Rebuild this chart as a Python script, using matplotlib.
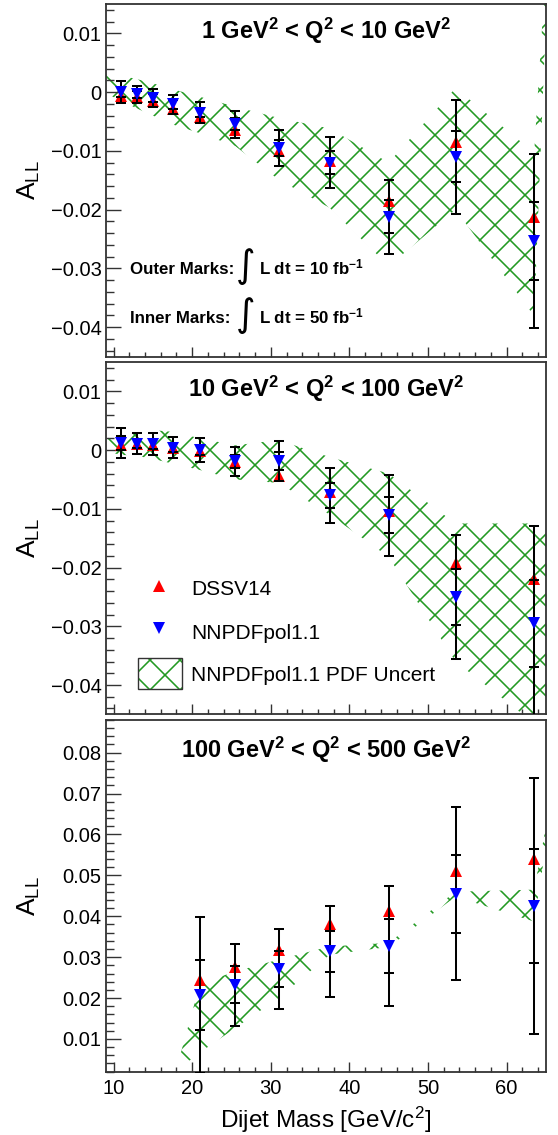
import matplotlib
matplotlib.use("Agg")
import matplotlib.pyplot as plt
from matplotlib.patches import Rectangle
from matplotlib.ticker import MultipleLocator, FuncFormatter

DPI = 90
K = 100.0 / DPI  # point sizes below are given for a 100 dpi canvas

plt.rcParams['font.family'] = ['Liberation Sans', 'DejaVu Sans']
plt.rcParams['mathtext.fontset'] = 'custom'
plt.rcParams['mathtext.rm'] = 'Liberation Sans'
plt.rcParams['mathtext.it'] = 'Liberation Sans:italic'
plt.rcParams['mathtext.bf'] = 'Liberation Sans:bold'
plt.rcParams['hatch.linewidth'] = 1.15 * K
plt.rcParams['axes.unicode_minus'] = True

GREEN = '#229922'
FRAME = '#333333'

# ---------------- data ----------------
mass_bins = [11, 13, 15, 17.5, 21, 25.5, 31, 37.5, 45, 53.5, 63.5]
mass_bins_high = [21, 25.5, 31, 37.5, 45, 53.5, 63.5]

# 1 < Q^2 < 10 GeV^2
dssv_q1 = [-0.0006, -0.0009, -0.0015, -0.0029, -0.0043, -0.0064, -0.0101, -0.0118, -0.0185, -0.0085, -0.0213]
nnpdf_q1 = [0.0000, -0.0004, -0.0010, -0.0021, -0.0035, -0.0055, -0.0095, -0.0120, -0.0212, -0.0110, -0.0254]
err10_q1 = [0.0019, 0.0014, 0.0016, 0.0016, 0.0018, 0.0023, 0.0031, 0.0044, 0.0063, 0.0097, 0.0148]
err50_q1 = [0.00085, 0.00063, 0.00072, 0.00072, 0.00080, 0.00103, 0.00139, 0.00197, 0.00282, 0.00434, 0.00662]
band_x_q1 = [9, 11, 13, 15, 17.5, 21, 25.5, 31, 37.5, 45, 53.5, 63.5, 65.4]
band_hi_q1 = [0.0030, 0.0028, 0.0022, 0.0015, 0.0005, -0.0008, -0.0025, -0.0044, -0.0062, -0.0120, 0.0007, -0.0103, 0.0300]
band_lo_q1 = [-0.0002, -0.0015, -0.0028, -0.0040, -0.0055, -0.0070, -0.0092, -0.0149, -0.0197, -0.0296, -0.0200, -0.0381, 0.0260]

# 10 < Q^2 < 100 GeV^2
dssv_q2 = [0.0009, 0.0011, 0.0008, 0.0003, -0.0002, -0.0021, -0.0045, -0.0071, -0.0103, -0.0192, -0.0219]
nnpdf_q2 = [0.0012, 0.0011, 0.0010, 0.0004, 0.0000, -0.0019, -0.0019, -0.0077, -0.0111, -0.0250, -0.0295]
err10_q2 = [0.0026, 0.0018, 0.0019, 0.0018, 0.0020, 0.0025, 0.0034, 0.0047, 0.0069, 0.0105, 0.0165]
err50_q2 = [0.00116, 0.00080, 0.00085, 0.00080, 0.00089, 0.00112, 0.00152, 0.00210, 0.00309, 0.00470, 0.00740]
band_x_q2 = [9, 11, 13, 15, 17.5, 21, 25.5, 31, 37.5, 45, 53.5, 63.5, 65.4]
band_hi_q2 = [0.0020, 0.0024, 0.0030, 0.0034, 0.0031, 0.0020, 0.0008, 0.0017, -0.0012, -0.0040, -0.0125, -0.0125, -0.0125]
band_lo_q2 = [-0.0003, -0.0008, -0.0010, -0.0015, -0.0023, -0.0034, -0.0050, -0.0056, -0.0110, -0.0182, -0.0360, -0.0465, -0.0470]

# 100 < Q^2 < 500 GeV^2
dssv_q3 = [0.0245, 0.0275, 0.0317, 0.0380, 0.0412, 0.0510, 0.0540]
nnpdf_q3 = [0.0207, 0.0232, 0.0271, 0.0314, 0.0327, 0.0455, 0.0425]
err10_q3 = [0.0190, 0.0101, 0.0097, 0.0112, 0.0147, 0.0212, 0.0314]
err50_q3 = [0.0085, 0.00452, 0.00434, 0.0050, 0.00657, 0.00948, 0.0140]
band_x_q3 = [17.5, 21, 25.5, 31, 37.5, 45, 53.5, 63.5, 65.4]
band_hi_q3 = [-0.0007, 0.0235, 0.0265, 0.0294, 0.0326, 0.0335, 0.0460, 0.0465, 0.0660]
band_lo_q3 = [0.0015, 0.0067, 0.0127, 0.0200, 0.0306, 0.0325, 0.0448, 0.0387, 0.0620]

panel_titles = [
    r"1 GeV$^{\mathbf{2}}$ < Q$^{\mathbf{2}}$ < 10 GeV$^{\mathbf{2}}$",
    r"10 GeV$^{\mathbf{2}}$ < Q$^{\mathbf{2}}$ < 100 GeV$^{\mathbf{2}}$",
    r"100 GeV$^{\mathbf{2}}$ < Q$^{\mathbf{2}}$ < 500 GeV$^{\mathbf{2}}$",
]
legend_labels = ["DSSV14", "NNPDFpol1.1", "NNPDFpol1.1 PDF Uncert"]
xlabel_text = r"Dijet Mass [GeV/c$^{2}$]"
ylabel_text = r"A$_{\mathrm{LL}}$"

# ---------------- figure ----------------
fig = plt.figure(figsize=(558 / DPI, 1135 / DPI), dpi=DPI)
AX_LEFT, AX_W = 0.1894, 0.789
ax1 = fig.add_axes([AX_LEFT, 0.6859, AX_W, 0.3106])
ax2 = fig.add_axes([AX_LEFT, 0.3706, AX_W, 0.3105])
ax3 = fig.add_axes([AX_LEFT, 0.0558, AX_W, 0.3099])


def tick_fmt(v, pos):
    v = round(v, 6)
    if v == 0:
        return "0"
    return ("%g" % v).replace("-", "\u2212")


def style_axes(ax, ylim, show_xlabels):
    ax.set_xlim(9, 65)
    ax.set_ylim(*ylim)
    ax.xaxis.set_major_locator(MultipleLocator(10))
    ax.xaxis.set_minor_locator(MultipleLocator(2))
    ax.yaxis.set_major_locator(MultipleLocator(0.01))
    ax.yaxis.set_minor_locator(MultipleLocator(0.002))
    ax.yaxis.set_major_formatter(FuncFormatter(tick_fmt))
    for s in ax.spines.values():
        s.set_color(FRAME)
        s.set_linewidth(1.3 * K)
    ax.tick_params(axis='both', which='both', direction='in', colors=FRAME,
                   labelcolor='black', width=1.0 * K, top=False, right=False)
    ax.tick_params(axis='y', which='major', length=10.5 * K, labelsize=14.5 * K, pad=3 * K)
    ax.tick_params(axis='y', which='minor', length=5.5 * K)
    ax.tick_params(axis='x', which='major', length=7.2 * K, labelsize=14.5 * K, pad=5.5 * K,
                   labelbottom=show_xlabels)
    ax.tick_params(axis='x', which='minor', length=3.6 * K)
    ax.set_ylabel(ylabel_text, fontsize=19 * K)
    ax.yaxis.set_label_coords(-0.145, 0.5)


def draw_panel(ax, xb, dssv, nnpdf, e10, e50, bx, bhi, blo):
    ax.fill_between(bx, blo, bhi, facecolor='none', edgecolor=GREEN,
                    hatch='x', linewidth=0, zorder=1)
    ax.plot(xb, dssv, linestyle='none', marker='^', ms=8 * K, color='red',
            markeredgewidth=0, zorder=3)
    ax.errorbar(xb, nnpdf, yerr=e10, fmt='none', ecolor='black',
                elinewidth=1.45 * K, capsize=3.6 * K, capthick=1.45 * K, zorder=4)
    lo50 = [c - e for c, e in zip(nnpdf, e50)]
    hi50 = [c + e for c, e in zip(nnpdf, e50)]
    for yy in (lo50, hi50):
        ax.plot(xb, yy, linestyle='none', marker='_', ms=7.2 * K, mew=1.45 * K,
                color='black', zorder=4)
    ax.plot(xb, nnpdf, linestyle='none', marker='v', ms=8 * K, color='blue',
            markeredgewidth=0, zorder=5)


style_axes(ax1, (-0.045, 0.015), False)
style_axes(ax2, (-0.045, 0.015), False)
style_axes(ax3, (0.002, 0.088), True)

draw_panel(ax1, mass_bins, dssv_q1, nnpdf_q1, err10_q1, err50_q1,
           band_x_q1, band_hi_q1, band_lo_q1)
draw_panel(ax2, mass_bins, dssv_q2, nnpdf_q2, err10_q2, err50_q2,
           band_x_q2, band_hi_q2, band_lo_q2)
draw_panel(ax3, mass_bins_high, dssv_q3, nnpdf_q3, err10_q3, err50_q3,
           band_x_q3, band_hi_q3, band_lo_q3)

# panel headers
for ax, title, yb in zip((ax1, ax2, ax3), panel_titles, (0.900, 0.902, 0.891)):
    ax.text(0.5, yb, title, transform=ax.transAxes, ha='center', va='baseline',
            fontsize=17 * K, fontweight='bold')

# luminosity notes in the top panel
for label, lumi, yb, yint in (("Outer Marks:", r"L dt = 10 fb$^{\mathbf{-1}}$", 0.234, 0.255),
                              ("Inner Marks:", r"L dt = 50 fb$^{\mathbf{-1}}$", 0.094, 0.115)):
    ax1.text(0.055, yb, label, transform=ax1.transAxes, ha='left', va='baseline',
             fontsize=12.2 * K, fontweight='bold')
    ax1.text(0.318, yint, "\u222b", transform=ax1.transAxes, ha='center', va='center',
             fontsize=27 * K, family=['DejaVu Sans'])
    ax1.text(0.348, yb, lumi, transform=ax1.transAxes, ha='left', va='baseline',
             fontsize=12.2 * K, fontweight='bold')

# legend in the middle panel
ax2.plot([0.1217], [0.3635], transform=ax2.transAxes, marker='^', ms=8.2 * K,
         color='red', markeredgewidth=0, linestyle='none', clip_on=False)
ax2.plot([0.1217], [0.245], transform=ax2.transAxes, marker='v', ms=8.2 * K,
         color='blue', markeredgewidth=0, linestyle='none', clip_on=False)
ax2.add_patch(Rectangle((0.0742, 0.0729), 0.099, 0.0871, transform=ax2.transAxes,
                        facecolor='none', edgecolor=GREEN, hatch='x',
                        linewidth=0, zorder=5))
ax2.add_patch(Rectangle((0.0742, 0.0729), 0.099, 0.0871, transform=ax2.transAxes,
                        facecolor='none', edgecolor='#333333', linewidth=1.0 * K,
                        zorder=6))
for text, yb in zip(legend_labels, (0.3397, 0.2148, 0.0939)):
    ax2.text(0.1937, yb, text, transform=ax2.transAxes, ha='left',
             va='baseline', fontsize=15 * K)

ax3.set_xlabel(xlabel_text, fontsize=17.5 * K)
ax3.xaxis.set_label_coords(0.5, -0.095)

fig.savefig("out.png", dpi=DPI)
